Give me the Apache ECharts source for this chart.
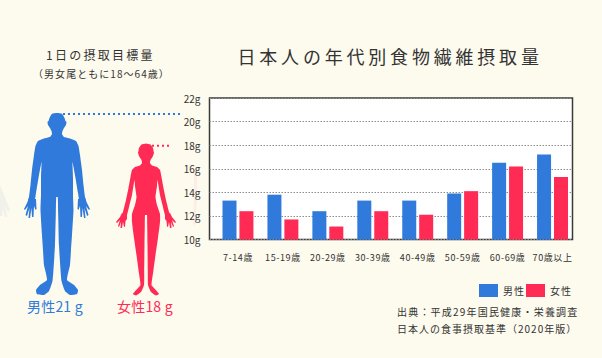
<!DOCTYPE html>
<html><head><meta charset="utf-8">
<style>html,body{margin:0;padding:0;background:#fdfaee}#c{width:602px;height:358px}</style>
<script src="https://cdn.jsdelivr.net/npm/echarts@6/dist/echarts.min.js"></script>
</head><body><div id="c"></div>
<script>
const categories=['7-14歳','15-19歳','20-29歳','30-39歳','40-49歳','50-59歳','60-69歳','70歳以上'];
const male=[13.3,13.8,12.4,13.3,13.3,13.9,16.5,17.2];
const female=[12.4,11.7,11.1,12.4,12.1,14.1,16.2,15.3];
const blue='#2f7adb', red='#ff2b54', ink='#333';
const F='"Noto Sans CJK JP","Noto Sans",sans-serif';

// decorative silhouettes: half outlines as [dx, y] from the figure's centre line
const maleBody=[[0,113],[5,113.8],[7.5,118],[8.5,121],[9.5,122],[9,125],[7,128],[5.5,131],[5,134],[7,137],[13,138.5],[19,141],[21.5,146],[23,155],[25,170],[26.5,185],[28,197],[29,201],[23,203],[21,193],[18.5,178],[15.5,162],[16,178],[16,195],[16.5,210],[15,235],[14,250],[13,265],[10,280],[17,285],[21,290],[20,294],[13,295],[8,291],[4.5,281],[3,262],[2,245],[1.2,215],[0.8,197],[0,197]];
const maleHand=[[21,199],[28,198],[30,203],[33,209],[32,210],[29,206],[31.5,215],[30,216],[27.5,208],[28.5,218],[27,218],[25.5,208],[25,217],[23.5,217],[23,206],[21.5,210],[20.5,209]];
const femaleBody=[[0,143.5],[4.5,144.5],[7,148],[7.5,151],[8,153],[6.5,157],[4.5,160],[4,163],[6,165.5],[11,167],[14,170],[15.5,177],[17.5,188],[20,200],[23,212],[24,216],[20,218],[16.5,205],[14,195],[11.5,180],[11,186],[9.5,197],[11,205],[14,214],[14,222],[12,238],[9.5,255],[7.5,270],[5.5,285],[8,288],[13,294],[10,295.5],[5,292],[2,285],[1.8,270],[1.5,245],[1.2,225],[1,215],[0,215]];
const femaleHand=[[19,214],[24,213],[26,217],[30,222],[29,223],[26,220],[28,226],[27,227],[25,222],[25.5,228],[24,228],[23,222],[22,227],[21,226.5],[20.5,221],[19,219]];
const ghostHand=[[0,185],[4,195],[10,210],[8,212],[5,206],[7,217],[5,217],[3,208],[2,216],[0,216]];
const ghostPink=[[194,170],[197,172],[197,200],[195,226],[193,224],[194,200]];

function mirror(half,cx){
  const r=half.map(p=>[cx+p[0],p[1]]);
  const l=half.slice().reverse().map(p=>[cx-p[0],p[1]]);
  return r.concat(l);
}
function poly(points,fill,smooth,opacity){
  return {type:'polygon',silent:true,shape:{points,smooth:smooth||0},style:{fill,opacity:opacity==null?1:opacity}};
}
function hands(half,cx,fill){
  return [poly(half.map(p=>[cx+p[0],p[1]]),fill),poly(half.map(p=>[cx-p[0],p[1]]),fill)];
}
function txt(text,x,y,size,fill){
  return {type:'text',silent:true,x,y,style:{text,fill:fill||ink,font:size+'px '+F,textAlign:'left',textVerticalAlign:'middle'}};
}
function dots(x1,x2,y,color){
  return {type:'line',silent:true,shape:{x1,y1:y,x2,y2:y},style:{stroke:color,lineWidth:2,lineDash:[2,3]}};
}
const spacing={
 '日本人の年代別食物繊維摂取量':3.8,
 '1日の摂取目標量':2.25,
 '（男女尾ともに18〜64歳）':1.05,
 '男性21 g':0.2,'女性18 g':0.2,
 '出典：平成29年国民健康・栄養調査':1.2,
 '日本人の食事摂取基準（2020年版）':1,
 '男性':1,'女性':1
};
categories.forEach(c=>spacing[c]=0.6);

const chart=echarts.init(document.getElementById('c'),null,{renderer:'svg'});
chart.setOption({
 animation:false,
 backgroundColor:'#fdfaee',
 legend:{left:479,top:284,padding:0,itemWidth:19,itemHeight:13,itemGap:3,selectedMode:false,icon:'rect',
   textStyle:{fontFamily:F,fontSize:10,color:ink},data:['男性','女性']},
 grid:[
  {left:209.5,top:98,width:363,height:141.5,show:true,backgroundColor:'#fff',borderColor:'#3a3a3a',borderWidth:1.5},
  {left:215.5,top:98,width:359.5,height:141.5}
 ],
 xAxis:[
  {gridIndex:0,type:'category',data:[],show:false},
  {gridIndex:1,type:'category',data:categories,axisLine:{show:false},axisTick:{show:false},
   axisLabel:{interval:0,margin:13,fontFamily:F,fontSize:9,color:ink}}
 ],
 yAxis:[
  {gridIndex:0,type:'value',min:10,max:22,interval:2,axisLine:{show:false},axisTick:{show:false},
   axisLabel:{formatter:'{value}g',margin:9,fontFamily:F,fontSize:10,color:ink},
   splitLine:{lineStyle:{color:'#8c8c8c',type:[1.5,1.5],width:1}}},
  {gridIndex:1,type:'value',min:10,max:22,interval:2,show:false}
 ],
 series:[
  {name:'男性',type:'bar',xAxisIndex:1,yAxisIndex:1,data:male,barWidth:14,barGap:'21%',itemStyle:{color:blue}},
  {name:'女性',type:'bar',xAxisIndex:1,yAxisIndex:1,data:female,barWidth:14,barGap:'21%',itemStyle:{color:red}}
 ],
 graphic:{elements:[
  poly(mirror(ghostHand,0).filter(p=>p[0]>=0),'#7fa6c4',0,0.1),
  poly(ghostPink,'#ff9aa8',0,0.12),
  poly(mirror(maleBody,57),blue,0.15),
  ...hands(maleHand,57,blue),
  poly(mirror(femaleBody,146),red,0.15),
  ...hands(femaleHand,146,red),
  dots(63,180,114,blue),
  dots(152,171,145.7,red),
  txt('日本人の年代別食物繊維摂取量',237.5,56,18),
  txt('1日の摂取目標量',46,54,12),
  txt('（男女尾ともに18〜64歳）',33,73,10),
  txt('男性21 g',27,306,14,blue),
  txt('女性18 g',117,306,14,red),
  txt('出典：平成29年国民健康・栄養調査',397,311,10),
  txt('日本人の食事摂取基準（2020年版）',397,328,10)
 ]}
});
function applySpacing(){
  document.querySelectorAll('#c svg text').forEach(t=>{
    const s=spacing[t.textContent.trim()];
    if(s!=null) t.style.letterSpacing=s+'px';
  });
}
applySpacing();
chart.on('finished',applySpacing);
</script></body></html>
